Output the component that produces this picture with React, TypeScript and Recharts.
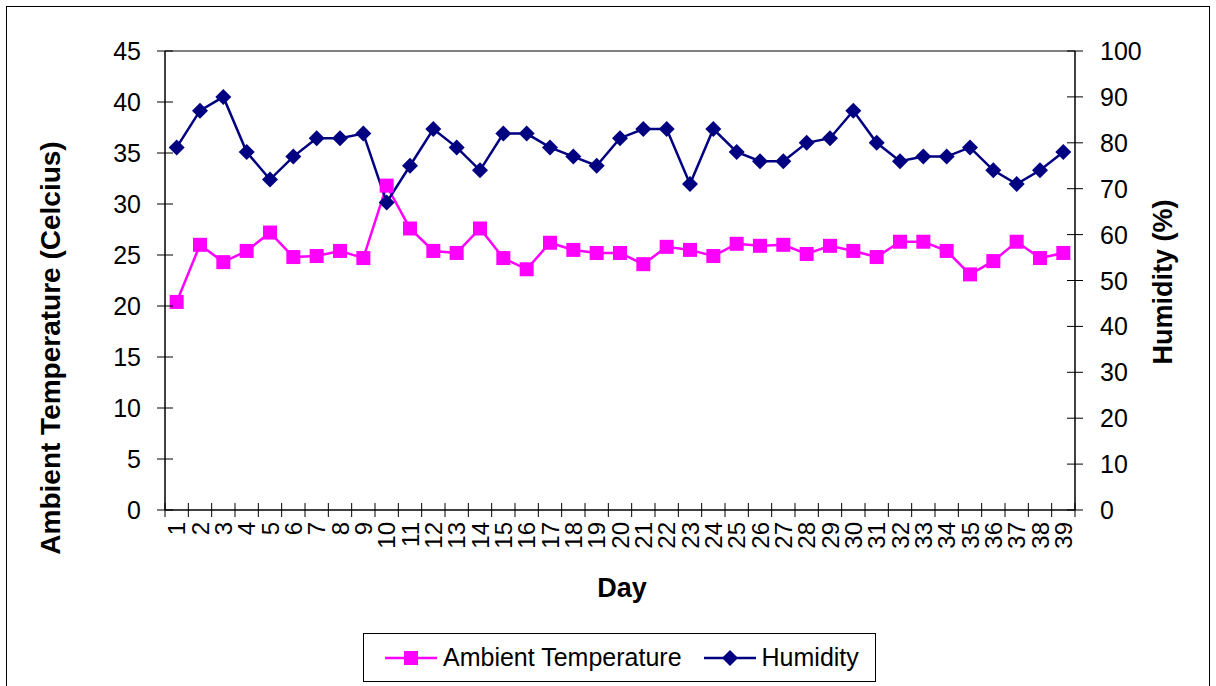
import React from "react";
import {
    LineChart,
    Line,
    XAxis,
    YAxis,
    Legend,
    ReferenceLine,
} from "recharts";

const days = [
    "1", "2", "3", "4", "5", "6", "7", "8", "9", "10",
    "11", "12", "13", "14", "15", "16", "17", "18", "19", "20",
    "21", "22", "23", "24", "25", "26", "27", "28", "29", "30",
    "31", "32", "33", "34", "35", "36", "37", "38", "39",
];

const temperature = [
    20.4, 26.0, 24.3, 25.4, 27.2, 24.8, 24.9, 25.4, 24.7, 31.8,
    27.6, 25.4, 25.2, 27.6, 24.7, 23.6, 26.2, 25.5, 25.2, 25.2,
    24.1, 25.8, 25.5, 24.9, 26.1, 25.9, 26.0, 25.1, 25.9, 25.4,
    24.8, 26.3, 26.3, 25.4, 23.1, 24.4, 26.3, 24.7, 25.2,
];

const humidity = [
    79, 87, 90, 78, 72, 77, 81, 81, 82, 67,
    75, 83, 79, 74, 82, 82, 79, 77, 75, 81,
    83, 83, 71, 83, 78, 76, 76, 80, 81, 87,
    80, 76, 77, 77, 79, 74, 71, 74, 78,
];

const tempTicks = [0, 5, 10, 15, 20, 25, 30, 35, 40, 45];
const humidityTicks = [0, 10, 20, 30, 40, 50, 60, 70, 80, 90, 100];

const data = days.map((day, i) => ({
    day,
    temperature: temperature[i],
    humidity: humidity[i],
}));

const FONT = "'Liberation Sans', Arial, sans-serif";
const PINK = "#FF00FF";
const NAVY = "#000080";
const HALF_BAND = 910 / 39 / 2;

const LeftTick = (props: any) => {
    const { x, y, payload } = props;
    return (
        <g>
            <line x1={x - 8} x2={x + 8} y1={y} y2={y} stroke="#000" />
            <text x={x - 24} y={y} textAnchor="end" dominantBaseline="central" fontSize={25} fontFamily={FONT} fill="#000">
                {payload.value}
            </text>
        </g>
    );
};

const RightTick = (props: any) => {
    const { x, y, payload } = props;
    return (
        <g>
            <line x1={x - 8} x2={x + 8} y1={y} y2={y} stroke="#000" />
            <text x={x + 25} y={y} textAnchor="start" dominantBaseline="central" fontSize={25} fontFamily={FONT} fill="#000">
                {payload.value}
            </text>
        </g>
    );
};

const DayTick = (props: any) => {
    const { x, y, payload, index } = props;
    const last = index === days.length - 1;
    return (
        <g>
            <line x1={x - HALF_BAND} x2={x - HALF_BAND} y1={y - 7} y2={y + 7} stroke="#000" />
            {last && <line x1={x + HALF_BAND} x2={x + HALF_BAND} y1={y - 7} y2={y + 7} stroke="#000" />}
            <text
                transform={`translate(${x},${y + 12}) rotate(-90)`}
                textAnchor="end"
                dominantBaseline="central"
                fontSize={24}
                fontFamily={FONT}
                fill="#000"
            >
                {payload.value}
            </text>
        </g>
    );
};

const SquareDot = (props: any) => {
    const { cx, cy, index } = props;
    return <rect key={`sq-${index}`} x={cx - 7} y={cy - 7} width={14} height={14} fill={PINK} />;
};

const DiamondDot = (props: any) => {
    const { cx, cy, index } = props;
    return (
        <path
            key={`dm-${index}`}
            d={`M${cx},${cy - 8}L${cx + 8},${cy}L${cx},${cy + 8}L${cx - 8},${cy}Z`}
            fill={NAVY}
        />
    );
};

const LegendBox = (props: any) => {
    const { payload = [] } = props;
    return (
        <div
            style={{
                width: 513,
                height: 49,
                border: "1px solid #000",
                boxSizing: "border-box",
                display: "flex",
                alignItems: "center",
                paddingLeft: 21,
                fontFamily: FONT,
                fontSize: 25,
                background: "#fff",
            }}
        >
            {payload.map((entry: any, i: number) => (
                <div key={entry.value} style={{ display: "flex", alignItems: "center", marginLeft: i === 0 ? 0 : 22 }}>
                    <svg width={52} height={20}>
                        <line x1={0} x2={52} y1={10} y2={10} stroke={entry.color} strokeWidth={2.5} />
                        {entry.dataKey === "temperature" ? (
                            <rect x={19} y={3} width={14} height={14} fill={entry.color} />
                        ) : (
                            <path d="M26,2L34,10L26,18L18,10Z" fill={entry.color} />
                        )}
                    </svg>
                    <span style={{ marginLeft: 6, color: "#000" }}>{entry.value}</span>
                </div>
            ))}
        </div>
    );
};

const App: React.FC = () => {
    return (
        <div style={{ position: "absolute", left: 0, top: 0, width: 1216, height: 686, overflow: "hidden", background: "#fff" }}>
            <div
                style={{
                    position: "absolute",
                    left: 6,
                    top: 6,
                    width: 1204,
                    height: 700,
                    border: "1px solid #000",
                    boxSizing: "border-box",
                }}
            />
            <div style={{ position: "absolute", left: 0, top: 0 }}>
                <LineChart
                    width={1216}
                    height={686}
                    data={data}
                    margin={{ top: 51, right: 0, bottom: 0, left: 0 }}
                    style={{ fontFamily: FONT }}
                >
                    <XAxis
                        dataKey="day"
                        height={176}
                        interval={0}
                        padding={{ left: HALF_BAND, right: HALF_BAND }}
                        tickSize={0}
                        tickMargin={0}
                        tick={<DayTick />}
                        axisLine={{ stroke: "#000", strokeWidth: 1.5 }}
                        label={{
                            content: () => (
                                <text
                                    x={622}
                                    y={588}
                                    textAnchor="middle"
                                    dominantBaseline="central"
                                    fontSize={27}
                                    fontWeight="bold"
                                    fontFamily={FONT}
                                    fill="#000"
                                >
                                    Day
                                </text>
                            ),
                        }}
                    />
                    <YAxis
                        yAxisId="left"
                        orientation="left"
                        width={165}
                        domain={[0, 45]}
                        ticks={tempTicks}
                        interval={0}
                        tickSize={0}
                        tickMargin={0}
                        tick={<LeftTick />}
                        axisLine={{ stroke: "#000", strokeWidth: 1.5 }}
                        label={{
                            content: () => (
                                <text
                                    transform="translate(50,348) rotate(-90)"
                                    textAnchor="middle"
                                    dominantBaseline="central"
                                    fontSize={28}
                                    fontWeight="bold"
                                    fontFamily={FONT}
                                    fill="#000"
                                >
                                    Ambient Temperature (Celcius)
                                </text>
                            ),
                        }}
                    />
                    <YAxis
                        yAxisId="right"
                        orientation="right"
                        width={141}
                        domain={[0, 100]}
                        ticks={humidityTicks}
                        interval={0}
                        tickSize={0}
                        tickMargin={0}
                        tick={<RightTick />}
                        axisLine={{ stroke: "#000", strokeWidth: 1.5 }}
                        label={{
                            content: () => (
                                <text
                                    transform="translate(1163,282) rotate(-90)"
                                    textAnchor="middle"
                                    dominantBaseline="central"
                                    fontSize={27}
                                    fontWeight="bold"
                                    fontFamily={FONT}
                                    fill="#000"
                                >
                                    Humidity (%)
                                </text>
                            ),
                        }}
                    />
                    <ReferenceLine yAxisId="left" y={45} stroke="#808080" strokeWidth={2} />
                    <Legend
                        layout="horizontal"
                        verticalAlign="middle"
                        align="center"
                        content={<LegendBox />}
                        wrapperStyle={{ left: 363, top: 633, width: 513, height: 49 }}
                    />
                    <Line
                        yAxisId="left"
                        type="linear"
                        dataKey="temperature"
                        name="Ambient Temperature"
                        stroke={PINK}
                        strokeWidth={2.5}
                        dot={<SquareDot />}
                        activeDot={false}
                        isAnimationActive={false}
                    />
                    <Line
                        yAxisId="right"
                        type="linear"
                        dataKey="humidity"
                        name="Humidity"
                        stroke={NAVY}
                        strokeWidth={2.5}
                        dot={<DiamondDot />}
                        activeDot={false}
                        isAnimationActive={false}
                    />
                </LineChart>
            </div>
        </div>
    );
};

export default App;
